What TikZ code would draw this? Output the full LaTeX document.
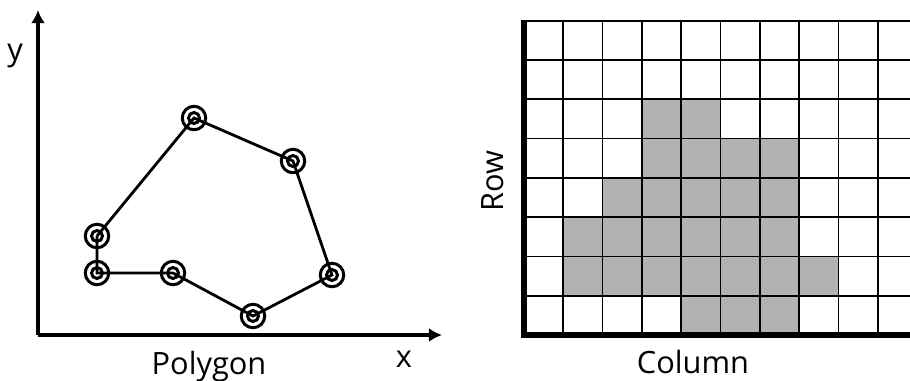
\documentclass[tikz,border=0pt]{standalone}
\usepackage{fontspec}
\setmainfont{Open Sans}
\usetikzlibrary{arrows.meta}

\begin{document}
\begin{tikzpicture}[x=0.02cm, y=-0.02cm,
  axis/.style={line width=2.3pt, -{Latex[length=7.5pt, width=8pt]}},
  edge/.style={line width=1.6pt},
  ring/.style={line width=1.7pt},
  cell/.style={fill=black!30},
  gridline/.style={line width=1pt},
  border/.style={line width=3.2pt},
  label/.style={font=\fontsize{17.5}{20}\selectfont, anchor=base}]
  \useasboundingbox (0, 0) rectangle (910, 380);

  % vector: polygon
  \coordinate (origin) at (38, 335);
  \coordinate (ytip) at (38, 10);
  \coordinate (xtip) at (442, 335);
  \draw[axis] (origin) -- (ytip);
  \draw[axis] (origin) -- (xtip);

  \coordinate (v1) at (97, 236);
  \coordinate (v2) at (194, 118);
  \coordinate (v3) at (293, 161);
  \coordinate (v4) at (332, 275);
  \coordinate (v5) at (253, 316);
  \coordinate (v6) at (173, 273);
  \coordinate (v7) at (97, 273);

  \foreach \v in {v1, v2, v3, v4, v5, v6, v7}
    \draw[ring] (\v) circle[radius=0.235cm] (\v) circle[radius=0.11cm];
  \draw[edge] (v1) -- (v2) -- (v3) -- (v4) -- (v5) -- (v6) -- (v7) -- (v1);

  \node[label] (ylabel) at (15, 60) {y};
  \node[label] (xlabel) at (404, 367) {x};
  \node[label] (polygon) at (209, 374) {Polygon};

  % raster: grid of cells
  \foreach \r/\cs in {2/{3,4}, 3/{3,...,6}, 4/{2,...,6}, 5/{1,...,6}, 6/{1,...,7}, 7/{4,5,6}}
    \foreach \c in \cs
      \fill[cell] (524 + 39.3*\c, 20.7 + 39.3*\r) rectangle ++(39.3, 39.3);

  \foreach \r in {0,...,7}
    \draw[gridline] (524, 20.7 + 39.3*\r) -- (910, 20.7 + 39.3*\r);
  \foreach \c in {1,...,9}
    \draw[gridline] (524 + 39.3*\c, 20.7) -- (524 + 39.3*\c, 335);

  \coordinate (corner) at (524, 335);
  \coordinate (top) at (524, 20);
  \coordinate (right) at (910, 335);
  \draw[border] (top) -- (corner) -- (right);

  \node[label, rotate=90] (row) at (503, 181) {Row};
  \node[label] (column) at (693, 373) {Column};

\end{tikzpicture}
\end{document}
